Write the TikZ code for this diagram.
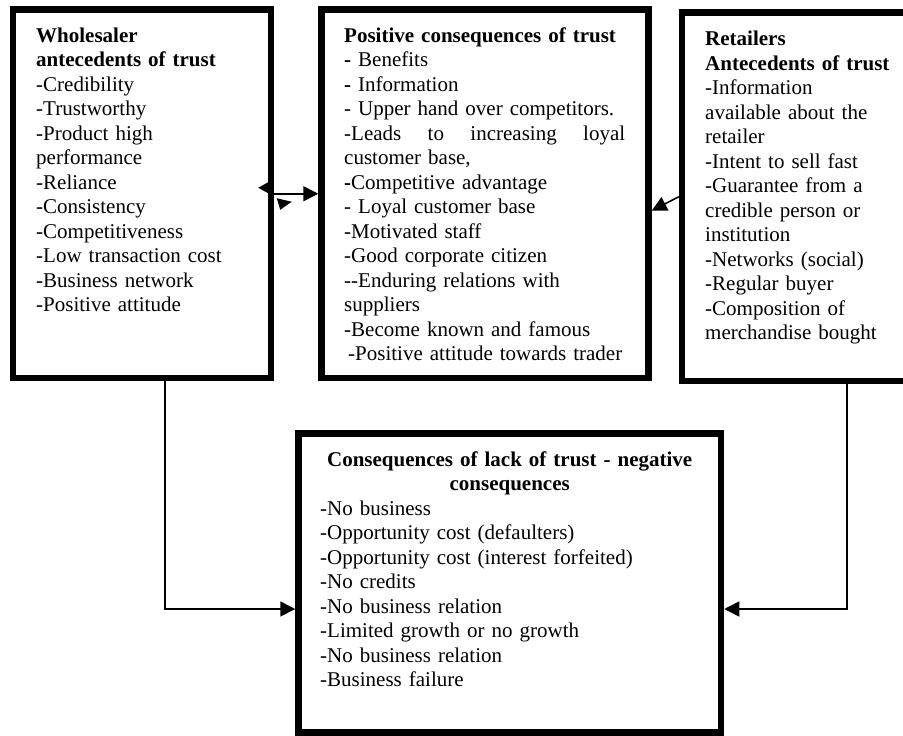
\documentclass[tikz,border=0pt]{standalone}
\usepackage{fontspec}
\setmainfont{Liberation Serif}
\usetikzlibrary{arrows.meta,calc}
\tikzset{
  panel/.style={draw, rectangle, line width=6.5pt, inner sep=0pt},
  blurb/.style={anchor=north west, inner sep=0pt, align=left, font=\fontsize{21}{24.5}\selectfont},
  link/.style={line width=1.6pt, -{Triangle[length=15pt,width=15pt]}}
}
\begin{document}
\begin{tikzpicture}[x=1pt,y=-1pt]
  \useasboundingbox (0,0) rectangle (903,736);
  \clip (0,0) rectangle (903,736);
  % draw boxes
  \node[panel, minimum width=258pt, minimum height=368.5pt] (wl) at (142,193.75) {};
  \node[panel, minimum width=327pt, minimum height=368.5pt] (pc) at (485,193.75) {};
  \node[panel, minimum width=330pt, minimum height=368.5pt] (rt) at (847,196.75) {};
  \node[panel, minimum width=422.5pt, minimum height=299pt] (lt) at (509.75,583) {};
  % box texts
  \node[blurb, text width=230pt] (wltext) at (36,24.9) {\strut\textbf{Wholesaler}\\
    \textbf{antecedents of trust}\\
    -Credibility\\
    -Trustworthy\\
    -Product high\\
    performance\\
    -Reliance\\
    -Consistency\\
    -Competitiveness\\
    -Low transaction cost\\
    -Business network\\
    -Positive attitude};
  \node[blurb, text width=295pt] (pctext) at (344,24.9) {\strut\textbf{Positive consequences of trust}\\
    \textbf{-} Benefits\\
    \textbf{-} Information\\
    - Upper hand over competitors.\\
    \makebox[281pt][l]{-Leads\hfill to\hfill increasing\hfill loyal}\\
    customer base,\\
    \textbf{-}Competitive advantage\\
    - Loyal customer base\\
    -Motivated staff\\
    -Good corporate citizen\\
    -{}-Enduring relations with\\
    suppliers\\
    -Become known and famous\\
    \hspace*{4pt}-Positive attitude towards trader};
  \node[blurb, text width=195pt] (rttext) at (705,28.4) {\strut\textbf{Retailers}\\
    \textbf{Antecedents of trust}\\
    -Information\\
    available about the\\
    retailer\\
    -Intent to sell fast\\
    -Guarantee from a\\
    credible person or\\
    institution\\
    -Networks (social)\\
    -Regular buyer\\
    -Composition of\\
    merchandise bought};
  \node[blurb, text width=379pt] (lttext) at (320,449) {\strut\makebox[379pt][c]{\bfseries Consequences of lack of trust - negative}\\
    \makebox[379pt][c]{\bfseries consequences}\\
    -No business\\
    -Opportunity cost (defaulters)\\
    -Opportunity cost (interest forfeited)\\
    -No credits\\
    -No business relation\\
    -Limited growth or no growth\\
    -No business relation\\
    -Business failure};
  % draw connectors
  \draw[link] (wl.east) -- (pc.west);
  \draw[link, -{Triangle[length=12pt,width=13pt]}] ([yshift=6pt]wl.east) -- ++(-16,0);
  \fill ($(wl.east)+(2.5,4.5)$) -- ($(wl.east)+(17.5,8)$) -- ($(wl.east)+(6,16)$) -- cycle;
  \draw[link] (rt.west) -- ([yshift=-17pt]pc.east);
  \draw[link] ([xshift=23pt]wl.south) |- ([yshift=-26pt]lt.west);
  \draw[link] (rt.south) |- ([yshift=-26pt]lt.east);
\end{tikzpicture}
\end{document}
